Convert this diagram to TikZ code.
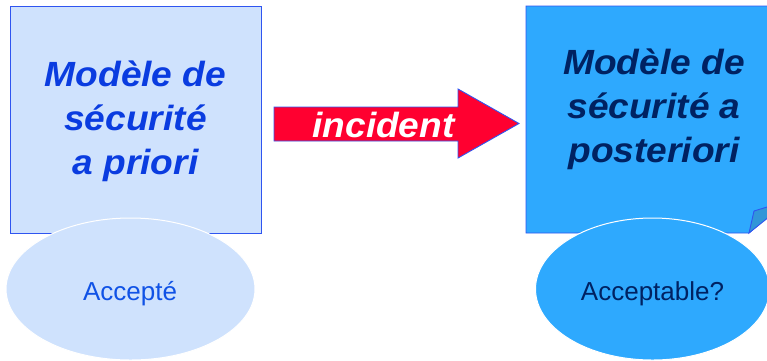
\documentclass[tikz,border=0pt]{standalone}
\usepackage{fontspec}
\setmainfont{Liberation Sans}
\newfontfamily\titlefont[FakeStretch=1.06]{Liberation Sans}
\usetikzlibrary{shapes.geometric}
\definecolor{lightbox}{HTML}{CFE2FD}
\definecolor{darkbox}{HTML}{2EA9FE}
\definecolor{edgeblue}{HTML}{2F55F0}
\definecolor{titleblue}{HTML}{0A3CE0}
\definecolor{navy}{HTML}{002262}
\definecolor{arrowred}{HTML}{FF0030}
\definecolor{foldblue}{HTML}{3196D8}
\definecolor{accblue}{HTML}{1052E6}
\tikzset{
  boxline/.style={draw=edgeblue, line width=0.9pt},
  titletext/.style={font=\titlefont\bfseries\itshape\fontsize{35}{44}\selectfont, align=center, inner sep=0pt, anchor=base},
  bubble/.style={shape=ellipse, draw=white, line width=1pt, inner sep=0pt, font=\fontsize{26}{30}\selectfont},
}
\begin{document}
\begin{tikzpicture}[x=1pt,y=-1pt]
\useasboundingbox (0,0) rectangle (767,360);
% left box
\draw[boxline, fill=lightbox] (10,6) rectangle (261,233);
\node[titletext, text=titleblue] (prior) at (135.5,174) {Modèle de\\sécurité\\a priori};
% right box with folded corner
\draw[boxline, fill=darkbox] (526,6) -- (790,6) -- (790,197) -- (749,233) -- (526,233) -- cycle;
\draw[boxline, fill=foldblue] (749,233) -- (754,211) -- (790,200) -- cycle;
\node[titletext, text=navy] (post) at (654,162) {Modèle de\\sécurité a\\posteriori};
% arrow
\draw[draw=edgeblue, line width=0.9pt, fill=arrowred] (274,107) -- (458,107) -- (458,89) -- (519,123.5) -- (458,158) -- (458,141) -- (274,141) -- cycle;
\node[font=\titlefont\bfseries\itshape\fontsize{35}{40}\selectfont, text=white, inner sep=0pt, anchor=base] (inc) at (383.5,137) {incident};
% ellipses
\node[bubble, fill=lightbox, minimum width=249pt, minimum height=142pt, text=accblue, text depth=0pt, text height=0pt] (acc) at (130.5,289) {};
\node[font=\fontsize{26}{30}\selectfont, text=accblue, inner sep=0pt, anchor=base] (acctxt) at (130,300) {Accepté};
\node[bubble, fill=darkbox, minimum width=234pt, minimum height=142pt] (acc2) at (652.5,289) {};
\node[font=\fontsize{26}{30}\selectfont, text=navy, inner sep=0pt, anchor=base] (acc2txt) at (652.5,300) {Acceptable?};
\end{tikzpicture}
\end{document}
